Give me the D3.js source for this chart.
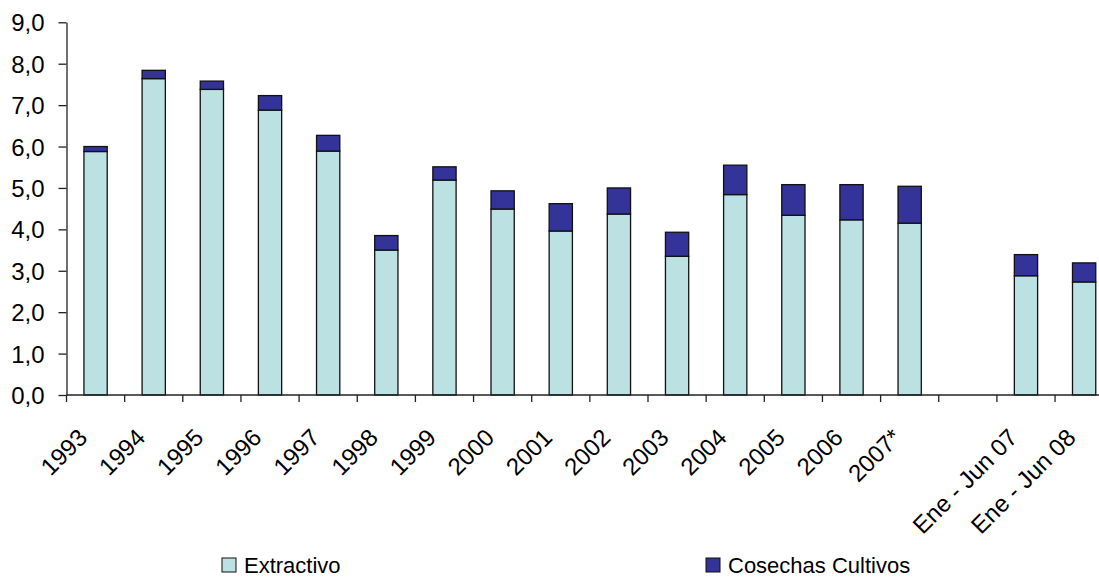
<!DOCTYPE html>
<html>
<head>
<meta charset="utf-8">
<script src="https://cdn.jsdelivr.net/npm/d3@7"></script>
<style>
  body { margin: 0; background: #fff; }
  svg { display: block; font-family: "Liberation Sans", Arial, sans-serif; }
</style>
</head>
<body>
<div id="chart"></div>
<script>
const width = 1099,
  height = 577;

// categories (one empty slot between 2007* and the half-year figures)
const categories = ["1993", "1994", "1995", "1996", "1997", "1998", "1999", "2000", "2001",
  "2002", "2003", "2004", "2005", "2006", "2007*", "", "Ene - Jun 07", "Ene - Jun 08"];
const extractivo = [5.88, 7.64, 7.38, 6.88, 5.89, 3.50, 5.19, 4.49, 3.96,
  4.37, 3.35, 4.84, 4.34, 4.23, 4.15, 0, 2.88, 2.73];
const cosechas = [0.12, 0.20, 0.20, 0.35, 0.38, 0.35, 0.32, 0.44, 0.66,
  0.63, 0.58, 0.71, 0.74, 0.85, 0.89, 0, 0.51, 0.46];
const yTicks = [0, 1, 2, 3, 4, 5, 6, 7, 8, 9];
const seriesNames = ["Extractivo", "Cosechas Cultivos"];
const colors = ["#bce1e3", "#333399"];

const plotLeft = 66.5, plotTop = 22.3, plotBottom = 395;
const step = 58.15;

const svg = d3.select("#chart").append("svg")
  .attr("width", width)
  .attr("height", height);

// band scale, last band runs past the right edge like the original
const x = d3.scaleBand()
  .domain(categories)
  .range([plotLeft, plotLeft + step * categories.length])
  .paddingInner(0.6)
  .paddingOuter(0.3);

const y = d3.scaleLinear().domain([0, 9]).range([plotBottom, plotTop]);

const locale = d3.formatLocale({ decimal: ",", thousands: ".", grouping: [3], currency: ["", ""] });
const fmt = locale.format(".1f");

// stacked data
const rows = categories.map((c, i) => ({ cat: c, Extractivo: extractivo[i], "Cosechas Cultivos": cosechas[i] }));
const stacked = d3.stack().keys(seriesNames)(rows);

svg.append("g")
  .selectAll("g")
  .data(stacked)
  .join("g")
  .attr("fill", (d, i) => colors[i])
  .selectAll("rect")
  .data(d => d.filter(s => s.data[d.key] > 0))
  .join("rect")
  .attr("x", d => x(d.data.cat))
  .attr("width", x.bandwidth())
  .attr("y", d => y(d[1]))
  .attr("height", d => y(d[0]) - y(d[1]))
  .attr("stroke", "#111")
  .attr("stroke-width", 1.3);

// y axis
const yAxis = svg.append("g")
  .attr("transform", `translate(${plotLeft},0)`)
  .call(d3.axisLeft(y).tickValues(yTicks).tickFormat(fmt).tickSize(8).tickSizeOuter(0));
yAxis.select(".domain").attr("stroke", "#222").attr("stroke-width", 1.3);
yAxis.selectAll(".tick line").attr("stroke", "#222").attr("stroke-width", 1.3);
yAxis.selectAll("text")
  .attr("x", -22)
  .attr("dy", "0.36em")
  .attr("fill", "#000")
  .style("font-size", "24px")
  .style("font-family", "Liberation Sans, Arial, sans-serif");

// x axis line + tick marks at band boundaries
svg.append("line")
  .attr("x1", plotLeft).attr("x2", width)
  .attr("y1", plotBottom).attr("y2", plotBottom)
  .attr("stroke", "#222").attr("stroke-width", 1.3);

svg.append("g")
  .selectAll("line")
  .data(categories)
  .join("line")
  .attr("x1", d => x(d) - x.step() * x.paddingOuter())
  .attr("x2", d => x(d) - x.step() * x.paddingOuter())
  .attr("y1", plotBottom)
  .attr("y2", plotBottom + 7)
  .attr("stroke", "#222")
  .attr("stroke-width", 1.3);

// rotated category labels
svg.append("g")
  .selectAll("text")
  .data(categories)
  .join("text")
  .attr("transform", d => `translate(${x(d) + x.bandwidth() / 2 - 7},${plotBottom + 44}) rotate(-45)`)
  .attr("text-anchor", "end")
  .style("font-size", "24px")
  .text(d => d);

// legend
const legendX = [222, 706];
const legend = svg.append("g")
  .selectAll("g")
  .data(seriesNames)
  .join("g")
  .attr("transform", (d, i) => `translate(${legendX[i]},558)`);
legend.append("rect")
  .attr("width", 14).attr("height", 14)
  .attr("fill", (d, i) => colors[i])
  .attr("stroke", "#111").attr("stroke-width", 1);
legend.append("text")
  .attr("x", 22).attr("y", 15)
  .style("font-size", "22px")
  .text(d => d);
</script>
</body>
</html>
